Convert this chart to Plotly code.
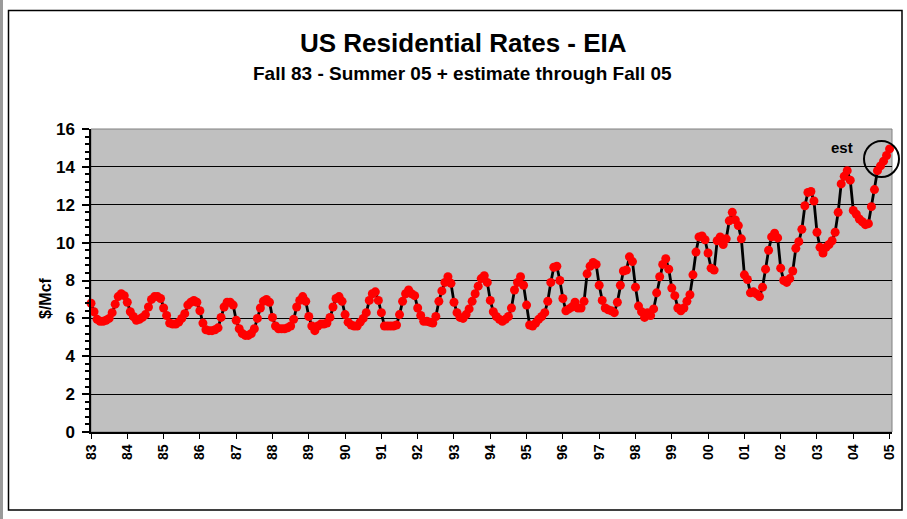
import plotly.graph_objects as go

# ---- data (monthly, Fall 83 .. Fall 05; $/Mcf) ----
y83 = [6.8, 6.35, 5.95, 5.85, 5.85, 5.9, 6.0, 6.3, 6.75, 7.15, 7.3, 7.2]
y84 = [6.85, 6.35, 6.1, 5.9, 5.95, 6.05, 6.2, 6.6, 7.0, 7.15, 7.15, 7.05]
y85 = [6.55, 6.15, 5.75, 5.7, 5.7, 5.8, 6.0, 6.25, 6.7, 6.85, 6.95, 6.85]
y86 = [6.4, 5.75, 5.4, 5.35, 5.35, 5.4, 5.5, 6.05, 6.6, 6.85, 6.85, 6.7]
y87 = [5.9, 5.45, 5.2, 5.1, 5.1, 5.2, 5.45, 6.0, 6.55, 6.9, 7.0, 6.85]
y88 = [6.05, 5.6, 5.45, 5.45, 5.45, 5.5, 5.6, 5.95, 6.6, 6.95, 7.15, 6.9]
y89 = [6.1, 5.6, 5.35, 5.6, 5.7, 5.7, 5.75, 6.05, 6.6, 7.05, 7.15, 6.9]
y90 = [6.2, 5.8, 5.65, 5.6, 5.6, 5.8, 6.0, 6.3, 6.95, 7.3, 7.4, 6.95]
y91 = [6.3, 5.6, 5.6, 5.6, 5.6, 5.65, 6.2, 6.9, 7.3, 7.5, 7.3, 7.2]
y92 = [6.55, 6.15, 5.85, 5.85, 5.8, 5.75, 6.1, 6.9, 7.45, 7.9, 8.2, 7.85]
y93 = [6.85, 6.3, 6.05, 6.0, 6.2, 6.5, 6.9, 7.3, 7.7, 8.1, 8.25, 7.9]
y94 = [6.95, 6.35, 6.1, 5.95, 5.85, 5.95, 6.1, 6.55, 7.5, 7.9, 8.2, 7.75]
y95 = [6.7, 5.65, 5.6, 5.75, 5.95, 6.1, 6.3, 6.9, 7.9, 8.7, 8.75, 8.0]
y96 = [7.05, 6.4, 6.5, 6.6, 6.85, 6.55, 6.55, 6.9, 8.35, 8.75, 8.95, 8.85]
y97 = [7.75, 6.95, 6.55, 6.45, 6.4, 6.3, 6.85, 7.75, 8.5, 8.55, 9.25, 9.0]
y98 = [7.65, 6.65, 6.35, 6.05, 6.3, 6.15, 6.5, 7.35, 8.2, 8.85, 9.15, 8.6]
y99 = [7.6, 7.2, 6.55, 6.4, 6.55, 6.9, 7.25, 8.3, 9.5, 10.3, 10.35, 10.15]
y00 = [9.45, 8.65, 8.55, 10.1, 10.3, 9.9, 10.2, 11.15, 11.6, 11.2, 10.9, 10.2]
y01 = [8.3, 8.05, 7.35, 7.4, 7.3, 7.15, 7.65, 8.6, 9.6, 10.3, 10.5, 10.25]
y02 = [8.65, 8.0, 7.9, 8.1, 8.5, 9.7, 10.05, 10.7, 11.95, 12.65, 12.7, 12.2]
y03 = [10.55, 9.75, 9.45, 9.75, 9.9, 10.1, 10.55, 11.6, 13.1, 13.5, 13.8, 13.3]
y04 = [11.7, 11.5, 11.25, 11.1, 10.95, 11.0, 11.9, 12.8, 13.8, 14.05, 14.3, 14.6]
y05 = [14.95]

rates = (y83 + y84 + y85 + y86 + y87 + y88 + y89 + y90 + y91 + y92 + y93 + y94 +
         y95 + y96 + y97 + y98 + y99 + y00 + y01 + y02 + y03 + y04 + y05)
months = list(range(len(rates)))

year_labels = ["83", "84", "85", "86", "87", "88", "89", "90", "91", "92", "93",
               "94", "95", "96", "97", "98", "99", "00", "01", "02", "03", "04", "05"]
year_ticks = [12 * i for i in range(len(year_labels))]

FONT = "Liberation Sans, Arial, sans-serif"

# pixel layout helpers (plot area 91..892 x 129..432 in a 907x519 page)
L, R, T, B = 91, 892, 129, 432
def px(x):
    return (x - L) / (R - L)
def py(y):
    return (B - y) / (B - T)

fig = go.Figure()
fig.add_trace(go.Scatter(
    x=months, y=rates, mode="lines+markers",
    line=dict(color="black", width=2.8),
    marker=dict(color="#FF0000", size=9, line=dict(width=0)),
    cliponaxis=False, showlegend=False, hoverinfo="x+y",
))

fig.update_layout(
    width=907, height=519,
    margin=dict(l=L, r=907 - R, t=T, b=519 - B, autoexpand=False),
    paper_bgcolor="white", plot_bgcolor="#C0C0C0",
    font=dict(family=FONT, color="black"),
    xaxis=dict(
        range=[0, 264.8], tickmode="array", tickvals=year_ticks, ticktext=year_labels,
        tickangle=-90, tickfont=dict(size=14, weight="bold"),
        ticks="outside", ticklen=5, tickcolor="black", tickwidth=1,
        showgrid=False, zeroline=False, showline=True, linecolor="black", linewidth=1.5,
        automargin=False, fixedrange=True,
    ),
    yaxis=dict(
        range=[0, 16], tickmode="linear", tick0=0, dtick=2,
        tickfont=dict(size=17, weight="bold"),
        ticks="outside", ticklen=7, tickcolor="black", tickwidth=1.5,
        minor=dict(dtick=0.4, ticks="outside", ticklen=4, tickcolor="black", showgrid=False),
        showgrid=True, gridcolor="black", gridwidth=1,
        zeroline=False, showline=True, linecolor="black", linewidth=1.5,
        automargin=False, fixedrange=True, ticklabelstandoff=4,
    ),
    shapes=[
        dict(type="rect", xref="paper", yref="paper",
             x0=px(8.5), x1=px(902), y0=py(510), y1=py(10.5),
             line=dict(color="black", width=1.5), layer="below"),
        dict(type="rect", xref="paper", yref="paper", x0=0, x1=1, y0=0, y1=1,
             line=dict(color="#808080", width=1), layer="below"),
        dict(type="line", xref="paper", yref="paper", x0=px(1.5), x1=px(1.5),
             y0=py(519), y1=py(0), line=dict(color="#9a9a9a", width=3)),
        dict(type="circle", xref="paper", yref="paper",
             x0=px(864), x1=px(899), y0=py(177), y1=py(141),
             line=dict(color="black", width=2)),
    ],
    annotations=[
        dict(text="<b>US Residential Rates - EIA</b>", xref="paper", yref="paper",
             x=px(463), y=py(43), xanchor="center", yanchor="middle",
             showarrow=False, font=dict(size=26, family=FONT)),
        dict(text="<b>Fall 83 - Summer 05 + estimate through Fall 05</b>", xref="paper", yref="paper",
             x=px(462), y=py(74), xanchor="center", yanchor="middle",
             showarrow=False, font=dict(size=19, family=FONT)),
        dict(text="<b>$/Mcf</b>", xref="paper", yref="paper",
             x=px(45), y=py(298), xanchor="center", yanchor="middle", textangle=-90,
             showarrow=False, font=dict(size=16, family=FONT)),
        dict(text="<b>est</b>", xref="paper", yref="paper",
             x=px(841.5), y=py(147), xanchor="center", yanchor="middle",
             showarrow=False, font=dict(size=15, family=FONT)),
    ],
)

fig.write_html("out.html", config={"displayModeBar": False},
               post_script="document.body.style.margin='0';document.body.style.overflow='hidden';")
